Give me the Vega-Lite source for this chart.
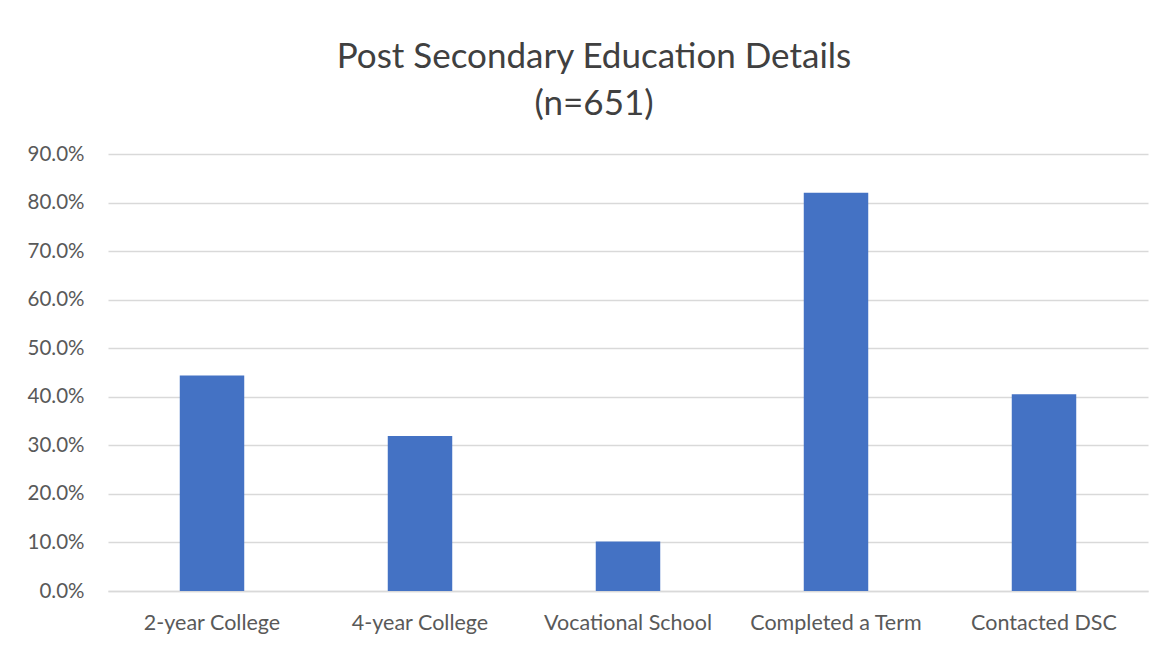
{
  "$schema": "https://vega.github.io/schema/vega-lite/v6.json",
  "autosize": {"type": "none"},
  "width": 1040,
  "height": 437,
  "padding": {"left": 108, "top": 154, "right": 17, "bottom": 55},
  "background": "white",
  "title": {
    "text": ["Post Secondary Education Details", "(n=651)"],
    "font": "Lato",
    "fontSize": 35,
    "fontWeight": "normal",
    "color": "#404040",
    "lineHeight": 47,
    "anchor": "middle",
    "dx": -34,
    "offset": 22
  },
  "data": {
    "values": [
      {"category": "2-year College", "share": 0.444},
      {"category": "4-year College", "share": 0.319},
      {"category": "Vocational School", "share": 0.102},
      {"category": "Completed a Term", "share": 0.82},
      {"category": "Contacted DSC", "share": 0.405}
    ]
  },
  "mark": {"type": "bar", "color": "#4472c4"},
  "encoding": {
    "x": {
      "field": "category",
      "type": "nominal",
      "sort": null,
      "title": null,
      "scale": {"paddingInner": 0.69, "paddingOuter": 0.345},
      "axis": {
        "labelAngle": 0,
        "labelFont": "Lato",
        "labelFontSize": 21.5,
        "labelColor": "#595959",
        "labelPadding": 21,
        "ticks": false,
        "domainColor": "#d9d9d9",
        "domainWidth": 1.3
      }
    },
    "y": {
      "field": "share",
      "type": "quantitative",
      "title": null,
      "scale": {"domain": [0, 0.9], "nice": false},
      "axis": {
        "values": [0, 0.1, 0.2, 0.3, 0.4, 0.5, 0.6, 0.7, 0.8, 0.9],
        "format": ".1%",
        "labelFont": "Lato",
        "labelFontSize": 20.5,
        "labelColor": "#595959",
        "labelPadding": 24,
        "ticks": false,
        "domain": false,
        "gridColor": "#d9d9d9",
        "gridWidth": 1.3
      }
    }
  },
  "config": {"view": {"stroke": null}}
}
